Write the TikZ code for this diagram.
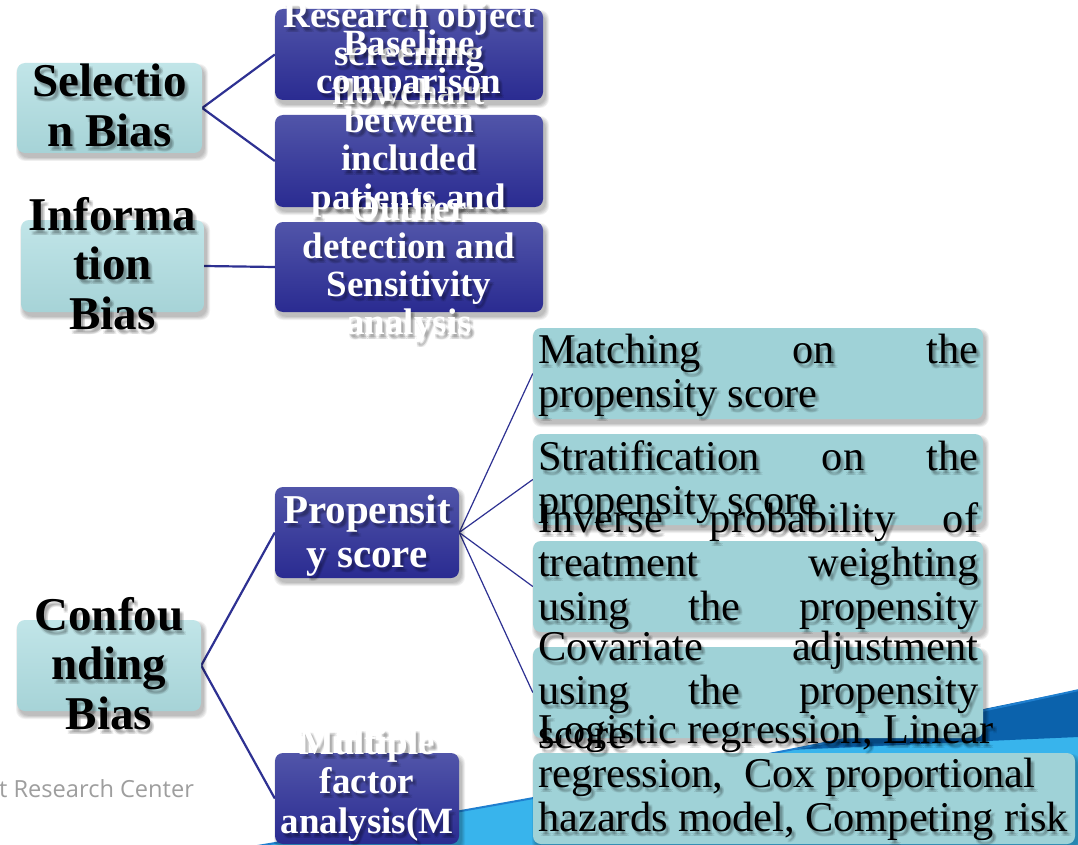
\documentclass[tikz,border=0pt]{standalone}
\usepackage{fontspec}
\setmainfont{Liberation Serif}
\newfontfamily\footerfont{Open Sans}

\pgfdeclarelayer{backdrop}
\pgfdeclarelayer{links}
\pgfsetlayers{backdrop,links,main}

\definecolor{linkblue}{HTML}{2E3192}
\definecolor{lighttop}{HTML}{C1E5E8}
\definecolor{lightbot}{HTML}{A6D3D7}
\definecolor{darktop}{HTML}{5155A9}
\definecolor{darkbot}{HTML}{2A2B91}
\definecolor{leaf}{HTML}{9FD2D7}
\definecolor{footgray}{HTML}{9E9E9E}
\definecolor{swdark}{HTML}{0B62AC}
\definecolor{swcyan}{HTML}{38B4EC}
\definecolor{swline}{HTML}{1F7FCF}

\tikzset{
  leftbox/.style={rounded corners=8pt, top color=lighttop, bottom color=lightbot, inner sep=0pt},
  darkbox/.style={rounded corners=8pt, top color=darktop, bottom color=darkbot, inner sep=0pt},
  leafbox/.style={rounded corners=8pt, fill=leaf, inner sep=0pt},
  lefttext/.style={anchor=base, inner sep=0pt, text=black, font=\fontsize{47}{50}\selectfont\bfseries},
  midtext/.style={anchor=base, inner sep=0pt, text=white, font=\fontsize{37}{39}\selectfont\bfseries},
  protext/.style={anchor=base, inner sep=0pt, text=white, font=\fontsize{41}{44}\selectfont\bfseries},
  leaftext/.style={anchor=base west, inner sep=0pt, text=black, font=\fontsize{42.4}{44}\selectfont},
  link/.style={draw=linkblue, line width=2.2pt},
  thinlink/.style={draw=linkblue, line width=1.2pt}
}

% justified and ragged lines of the leaf boxes
\newcommand\myjust[1]{\makebox[440pt][s]{#1}}
\newcommand\myflush[1]{\makebox[440pt][l]{#1}}

% rounded box with a soft shadow: name, style, x1, y1, x2, y2
\newcommand\panel[6]{%
  \foreach \k in {1,...,5}{%
    \fill[black, fill opacity=0.055, rounded corners=9pt]
      ({#3+3-0.8*\k},{#4+5-0.8*\k}) rectangle ({#5+2+0.8*\k},{#6+4+0.8*\k});
  }%
  \node[#2, minimum width={#5-#3}, minimum height={#6-#4}] (#1) at ({(#3+#5)/2},{(#4+#6)/2}) {};
}

% lines of text with a soft shadow: name, style, x, first baseline, skip, lines
\newcommand\stack[6]{%
  \foreach \txt [count=\i from 0] in {#6}{%
    \foreach \dx/\dy [count=\d] in {2/3,4/3,2/5,4/5,3/4}{%
      \node[#2, text=black, text opacity=0.075] (#1-sh\i-\d) at ({#3+\dx},{#4+\i*#5+\dy}) {\txt};
    }%
    \node[#2] (#1-\i) at (#3,{#4+\i*#5}) {\txt};
  }%
}

\begin{document}
\begin{tikzpicture}[x=1pt,y=-1pt]
\useasboundingbox (0,0) rectangle (1078,845);

\begin{pgfonlayer}{backdrop}
  \fill[white] (0,0) rectangle (1078,845);
  \fill[swcyan] (100,872) .. controls (420,820) and (760,760) .. (1079,690) -- (1079,872) -- cycle;
  \fill[swdark] (787,750) .. controls (880,731) and (980,709) .. (1079,690) -- (1079,737) .. controls (960,742) and (860,747) .. (787,750) -- cycle;
  \draw[swline, line width=2pt] (100,872) .. controls (420,820) and (760,760) .. (1079,690);
  \node[anchor=base west, inner sep=0pt, text=footgray, font=\footerfont\fontsize{23.6}{26}\selectfont] (footer) at (-1,797) {t Research Center};
\end{pgfonlayer}

% bias categories
\panel{sel}{leftbox}{17}{63}{202}{153}
\stack{selt}{lefttext}{109.5}{97}{50}{Selectio,n Bias}
\panel{inf}{leftbox}{21}{220}{204}{312}
\stack{inft}{lefttext}{112.5}{230}{49.5}{Informa,tion,Bias}
\panel{con}{leftbox}{17}{620}{201}{711}
\stack{cont}{lefttext}{109}{630}{49.5}{Confou,nding,Bias}

% remedies
\panel{res}{darkbox}{275}{9}{543}{100}
\stack{rest}{midtext}{409}{27.5}{38.5}{Research object,screening,flowchart}
\panel{bas}{darkbox}{275}{115}{543}{207}
\stack{bast}{midtext}{409}{55.5}{38.5}{Baseline,comparison,between,included,patients and}
\panel{out}{darkbox}{275}{222}{543}{312}
\stack{outt}{midtext}{409}{220}{38.3}{Outlier,detection and,Sensitivity,analysis}
\panel{pro}{darkbox}{275}{487}{459}{578}
\stack{prot}{protext}{367}{523}{44}{Propensit,y score}
\panel{mfa}{darkbox}{275}{753}{459}{844}
\stack{mfat}{midtext}{367}{754}{39.5}{Multiple,factor,analysis(M,FA)}

% propensity score methods
\panel{mat}{leafbox}{533}{328}{983}{419}
\stack{matt}{leaftext}{538}{363.5}{44}{{\myjust{Matching on the}},{\myflush{propensity score}}}
\panel{str}{leafbox}{533}{434}{983}{525}
\stack{strt}{leaftext}{538}{470}{44}{{\myjust{Stratification on the}},{\myflush{propensity score}}}
\panel{ipt}{leafbox}{533}{541}{983}{632}
\stack{iptt}{leaftext}{538}{532}{44}{{\myjust{Inverse probability of}},{\myjust{treatment weighting}},{\myjust{using the propensity}}}
\panel{cov}{leafbox}{533}{647}{983}{738}
\stack{covt}{leaftext}{538}{660}{44}{{\myjust{Covariate adjustment}},{\myjust{using the propensity}},{\myflush{score}}}
\panel{log}{leafbox}{533}{753}{1075}{844}
\stack{logt}{leaftext}{538}{743}{44}{{Logistic regression, Linear},{regression,~ Cox proportional},{hazards model, Competing risk}}

\begin{pgfonlayer}{links}
  \draw[link] (sel.east) -- (res.west);
  \draw[link] (sel.east) -- (bas.west);
  \draw[link] (inf.east) -- (out.west);
  \draw[link] (con.east) -- (pro.west);
  \draw[link] (con.east) -- (mfa.west);
  \draw[thinlink] (pro.east) -- (mat.west);
  \draw[thinlink] (pro.east) -- (str.west);
  \draw[thinlink] (pro.east) -- (ipt.west);
  \draw[thinlink] (pro.east) -- (cov.west);
\end{pgfonlayer}
\end{tikzpicture}
\end{document}
